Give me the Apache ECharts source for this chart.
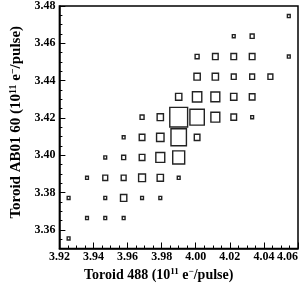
<!DOCTYPE html>
<html>
<head>
<meta charset="utf-8">
<script src="https://cdn.jsdelivr.net/npm/echarts@6/dist/echarts.min.js"></script>
<style>html,body{margin:0;padding:0;background:#fff}#c{width:301px;height:287px}</style>
</head>
<body>
<div id="c"></div>
<script>
// Bin centers
const xBins = [3.9254, 3.9362, 3.9469, 3.9577, 3.9685, 3.9792, 3.9900, 4.0008, 4.0115, 4.0223, 4.0331, 4.0438, 4.0546];
const yBins = [3.3554, 3.3663, 3.3771, 3.3879, 3.3988, 3.4096, 3.4204, 3.4313, 3.4421, 3.4529, 3.4638, 3.4746];
const xBinWidth = 0.010769;
const yBinWidth = 0.010833;
// [x bin index, y bin index, count]
const counts = [
  [12, 11, 1],
  [9, 10, 1], [10, 10, 2],
  [7, 9, 2], [8, 9, 4], [9, 9, 4], [10, 9, 4], [12, 9, 1],
  [7, 8, 5], [8, 8, 5], [9, 8, 3], [10, 8, 3], [11, 8, 3],
  [6, 7, 5], [7, 7, 11], [8, 7, 10], [9, 7, 5], [10, 7, 4],
  [4, 6, 2], [5, 6, 5], [6, 6, 40], [7, 6, 26], [8, 6, 10], [9, 6, 4], [10, 6, 1],
  [3, 5, 1], [4, 5, 4], [5, 5, 7], [6, 5, 30], [7, 5, 4],
  [2, 4, 1], [3, 4, 2], [4, 4, 4], [5, 4, 10], [6, 4, 18],
  [1, 3, 1], [2, 3, 3], [3, 3, 3], [4, 3, 6], [5, 3, 5], [6, 3, 1],
  [0, 2, 1], [2, 2, 1], [3, 2, 5], [4, 2, 1], [5, 2, 1],
  [1, 1, 1], [2, 1, 1], [3, 1, 1],
  [0, 0, 1]
];
const yMajorTicks = [3.36, 3.38, 3.40, 3.42, 3.44, 3.46, 3.48];
const yMinorTicks = [3.355, 3.365, 3.37, 3.375, 3.385, 3.39, 3.395, 3.405, 3.41, 3.415, 3.425, 3.43, 3.435, 3.445, 3.45, 3.455, 3.465, 3.47, 3.475];

const maxCount = Math.max(...counts.map(d => d[2])) * 1.06;
const data = counts.map(d => [xBins[d[0]], yBins[d[1]], d[2]]);

const font = 'Liberation Serif';
const chart = echarts.init(document.getElementById('c'), null, {renderer: 'canvas'});
chart.setOption({
  animation: false,
  grid: {left: 46, right: 2, top: 5, bottom: 30, show: true, borderColor: '#000', borderWidth: 1.5, backgroundColor: 'transparent'},
  xAxis: {
    type: 'value', min: 3.92, max: 4.06, interval: 0.02,
    name: 'Toroid 488 (10{s|11} e{s|−}/pulse)',
    nameLocation: 'middle', nameGap: 19,
    nameTextStyle: {fontFamily: font, fontWeight: 'bold', fontSize: 14, color: '#000', padding: [0, 40, 0, 0],
      rich: {s: {fontFamily: font, fontWeight: 'bold', fontSize: 9, color: '#000', verticalAlign: 'top', padding: [0, 0, 6, 0]}}},
    axisLine: {show: true, lineStyle: {color: '#000', width: 1.5}},
    axisTick: {show: true, inside: true, length: 6, lineStyle: {color: '#000', width: 1}},
    minorTick: {show: true, splitNumber: 4, length: 3, lineStyle: {color: '#000', width: 1}},
    splitLine: {show: false},
    axisLabel: {fontFamily: font, fontWeight: 'bold', fontSize: 12, color: '#000', margin: 2,
      formatter: v => v.toFixed(2), alignMaxLabel: 'right'}
  },
  yAxis: [{
    type: 'value', min: 3.35, max: 3.48,
    name: 'Toroid AB01 60 (10{s|11} e{s|−}/pulse)',
    nameLocation: 'middle', nameGap: 31, nameRotate: 90,
    nameTextStyle: {fontFamily: font, fontWeight: 'bold', fontSize: 15, color: '#000', padding: [0, 0, 0, 10],
      rich: {s: {fontFamily: font, fontWeight: 'bold', fontSize: 10, color: '#000', verticalAlign: 'top', padding: [0, 0, 6, 0]}}},
    axisLine: {show: true, lineStyle: {color: '#000', width: 1.5}},
    axisTick: {show: true, inside: true, length: 6, customValues: yMajorTicks, lineStyle: {color: '#000', width: 1}},
    splitLine: {show: false},
    axisLabel: {fontFamily: font, fontWeight: 'bold', fontSize: 12, color: '#000', margin: 4,
      customValues: yMajorTicks, formatter: v => v.toFixed(2)}
  }, {
    type: 'value', min: 3.35, max: 3.48, position: 'left',
    axisLine: {show: false},
    axisTick: {show: true, inside: true, length: 3, customValues: yMinorTicks, lineStyle: {color: '#000', width: 1}},
    axisLabel: {show: false},
    splitLine: {show: false}
  }],
  series: [{
    type: 'custom',
    coordinateSystem: 'cartesian2d',
    xAxisIndex: 0, yAxisIndex: 0,
    data: data,
    renderItem: function (params, api) {
      const c = api.value(2);
      const center = api.coord([api.value(0), api.value(1)]);
      const cell = api.size([xBinWidth, yBinWidth]);
      const r = Math.sqrt(c / maxCount);
      const w = cell[0] * r, h = cell[1] * r;
      return {
        type: 'rect',
        shape: {x: center[0] - w / 2, y: center[1] - h / 2, width: w, height: h},
        style: {fill: '#fff', stroke: '#222', lineWidth: 1.4}
      };
    }
  }]
});
</script>
</body>
</html>
